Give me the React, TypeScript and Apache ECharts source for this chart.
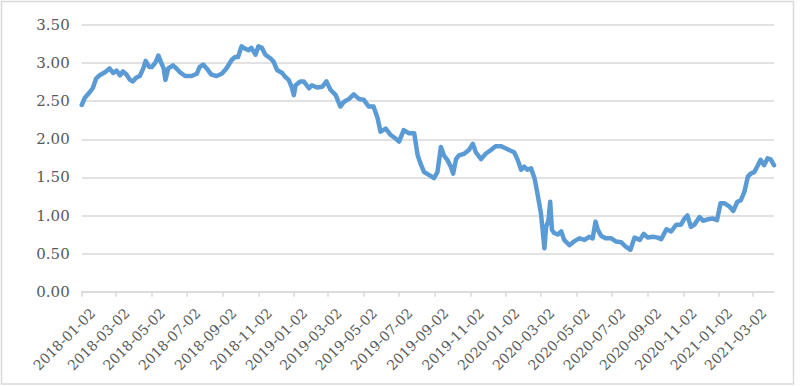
import React, { useEffect, useRef } from "react";
import * as echarts from "echarts";

const dates: string[] = [
  "2018-01-02","2018-01-07","2018-01-16","2018-01-21","2018-01-27","2018-02-02","2018-02-11","2018-02-19","2018-02-25",
  "2018-03-03","2018-03-09","2018-03-14","2018-03-20","2018-03-26","2018-03-31","2018-04-06","2018-04-12","2018-04-18",
  "2018-04-22","2018-04-28","2018-05-03","2018-05-09","2018-05-14","2018-05-18","2018-05-23","2018-05-26","2018-05-31",
  "2018-06-08","2018-06-14","2018-06-20","2018-06-29","2018-07-10","2018-07-19","2018-07-24","2018-07-30","2018-08-05",
  "2018-08-13","2018-08-22","2018-08-31","2018-09-08","2018-09-17","2018-09-23","2018-09-28","2018-10-04","2018-10-10",
  "2018-10-16","2018-10-21","2018-10-28","2018-11-02","2018-11-08","2018-11-14","2018-11-23","2018-11-28","2018-12-04",
  "2018-12-13","2018-12-18","2018-12-24","2018-12-29","2019-01-02","2019-01-05","2019-01-13","2019-01-19","2019-01-28",
  "2019-02-02","2019-02-11","2019-02-20","2019-02-27","2019-03-06","2019-03-15","2019-03-23","2019-03-29","2019-04-07",
  "2019-04-15","2019-04-24","2019-05-02","2019-05-11","2019-05-19","2019-05-26","2019-05-31","2019-06-09","2019-06-17",
  "2019-06-26","2019-07-02","2019-07-10","2019-07-19","2019-07-28","2019-08-03","2019-08-08","2019-08-14","2019-08-23",
  "2019-08-31","2019-09-06","2019-09-12","2019-09-17","2019-09-23","2019-09-29","2019-10-03","2019-10-08","2019-10-13",
  "2019-10-22","2019-10-30","2019-11-06","2019-11-11","2019-11-20","2019-11-28","2019-12-07","2019-12-15","2019-12-24",
  "2020-01-02","2020-01-10","2020-01-16","2020-01-22","2020-01-28","2020-02-02","2020-02-08","2020-02-14","2020-02-20",
  "2020-02-25","2020-03-02","2020-03-05","2020-03-08","2020-03-11","2020-03-15","2020-03-18","2020-03-21","2020-03-25",
  "2020-03-31","2020-04-06","2020-04-11","2020-04-20","2020-04-28","2020-05-07","2020-05-16","2020-05-24","2020-05-30",
  "2020-06-04","2020-06-08","2020-06-14","2020-06-22","2020-07-01","2020-07-09","2020-07-18","2020-07-26","2020-08-03",
  "2020-08-10","2020-08-19","2020-08-26","2020-09-02","2020-09-11","2020-09-19","2020-09-25","2020-10-04","2020-10-12",
  "2020-10-21","2020-10-29","2020-11-04","2020-11-09","2020-11-15","2020-11-21","2020-11-30","2020-12-06","2020-12-14",
  "2020-12-23","2020-12-30","2021-01-05","2021-01-12","2021-01-20","2021-01-27","2021-02-03","2021-02-09","2021-02-15",
  "2021-02-21","2021-02-26","2021-03-04","2021-03-09","2021-03-15","2021-03-21","2021-03-27","2021-04-01","2021-04-07",
];

const values: number[] = [
  2.45, 2.54, 2.62, 2.67, 2.80, 2.84, 2.88, 2.93, 2.87,
  2.90, 2.84, 2.89, 2.85, 2.78, 2.76, 2.81, 2.83, 2.93,
  3.03, 2.95, 2.95, 3.01, 3.10, 3.02, 2.93, 2.78, 2.93,
  2.97, 2.93, 2.88, 2.83, 2.83, 2.86, 2.95, 2.98, 2.93,
  2.85, 2.83, 2.86, 2.93, 3.04, 3.08, 3.08, 3.22, 3.19,
  3.17, 3.20, 3.11, 3.22, 3.20, 3.11, 3.06, 3.02, 2.91,
  2.87, 2.82, 2.78, 2.69, 2.58, 2.71, 2.76, 2.76, 2.67,
  2.71, 2.68, 2.69, 2.76, 2.65, 2.58, 2.43, 2.49, 2.53,
  2.59, 2.53, 2.52, 2.43, 2.43, 2.28, 2.10, 2.14, 2.06,
  2.01, 1.97, 2.12, 2.08, 2.08, 1.79, 1.68, 1.57, 1.53,
  1.49, 1.57, 1.90, 1.79, 1.73, 1.64, 1.55, 1.74, 1.79,
  1.81, 1.86, 1.94, 1.83, 1.74, 1.81, 1.86, 1.91, 1.91,
  1.88, 1.85, 1.83, 1.73, 1.60, 1.64, 1.60, 1.62, 1.49,
  1.29, 1.03, 0.81, 0.57, 0.85, 0.94, 1.18, 0.81, 0.77,
  0.75, 0.79, 0.68, 0.61, 0.66, 0.70, 0.68, 0.72, 0.70,
  0.92, 0.81, 0.73, 0.70, 0.70, 0.66, 0.65, 0.59, 0.55,
  0.71, 0.68, 0.76, 0.71, 0.72, 0.71, 0.69, 0.82, 0.79,
  0.88, 0.88, 0.96, 1.00, 0.85, 0.88, 0.98, 0.93, 0.95,
  0.96, 0.94, 1.16, 1.16, 1.12, 1.06, 1.18, 1.20, 1.31,
  1.51, 1.55, 1.57, 1.64, 1.73, 1.66, 1.75, 1.74, 1.66,
];

const xTickLabels: string[] = [
  "2018-01-02","2018-03-02","2018-05-02","2018-07-02","2018-09-02","2018-11-02",
  "2019-01-02","2019-03-02","2019-05-02","2019-07-02","2019-09-02","2019-11-02",
  "2020-01-02","2020-03-02","2020-05-02","2020-07-02","2020-09-02","2020-11-02",
  "2021-01-02","2021-03-02",
];

const yMin = 0;
const yMax = 3.5;
const yStep = 0.5;

function toTs(s: string): number {
  const [y, m, d] = s.split("-").map(Number);
  return new Date(y, m - 1, d).getTime();
}

const FONT = "'DejaVu Serif', 'Liberation Serif', serif";
const TEXT_COLOR = "#595959";

export default function App() {
  const ref = useRef<HTMLDivElement>(null);
  useEffect(() => {
    if (!ref.current) return;
    const chart = echarts.init(ref.current, null, { renderer: "svg" });
    const tickTs = xTickLabels.map(toTs);
    const seriesData = dates.map((d, i) => [toTs(d), values[i]]);
    const frame = {
      type: "rect",
      shape: { x: 1.5, y: 1.5, width: 792, height: 382.5 },
      style: { fill: "none", stroke: "#D9D9D9", lineWidth: 1.5 },
      silent: true,
    };
    chart.setOption({
      animation: false,
      backgroundColor: "#ffffff",
      graphic: [frame],
      grid: { left: 81.7, right: 26, top: 25, bottom: 94.3, containLabel: false },
      xAxis: {
        type: "value",
        min: toTs(dates[0]),
        max: toTs(dates[dates.length - 1]),
        axisLine: { show: true, lineStyle: { color: "#D9D9D9", width: 1.5 } },
        axisTick: {
          show: true,
          length: 5,
          lineStyle: { color: "#D9D9D9", width: 1.5 },
          customValues: tickTs,
        },
        axisLabel: { show: false },
        splitLine: { show: false },
      },
      yAxis: {
        type: "value",
        min: yMin,
        max: yMax,
        interval: yStep,
        axisLine: { show: false },
        axisTick: { show: false },
        axisLabel: {
          color: TEXT_COLOR,
          fontSize: 15,
          fontFamily: FONT,
          margin: 12,
          formatter: (v: number) => v.toFixed(2),
        },
        splitLine: { show: true, lineStyle: { color: "#D9D9D9", width: 1.5 } },
      },
      series: [
        {
          type: "line",
          data: seriesData,
          showSymbol: false,
          symbol: "none",
          smooth: false,
          lineStyle: { color: "#5B9BD5", width: 4.5, join: "round", cap: "round" },
        },
      ],
    });
    // x-axis tick labels, positioned through the axis scale
    const axisY = chart.convertToPixel({ yAxisIndex: 0 }, yMin) as number;
    const labelEls = xTickLabels.map((label, i) => {
      const px = chart.convertToPixel({ xAxisIndex: 0 }, tickTs[i]) as number;
      return {
        type: "text",
        x: px + 11,
        y: axisY + 19,
        rotation: Math.PI / 4,
        silent: true,
        style: {
          text: label,
          fill: TEXT_COLOR,
          font: `14px ${FONT}`,
          align: "right",
          verticalAlign: "middle",
        },
      };
    });
    chart.setOption({ graphic: [frame, ...labelEls] });
    return () => chart.dispose();
  }, []);
  return (
    <div
      ref={ref}
      style={{ position: "fixed", left: 0, top: 0, width: 800, height: 386, background: "#fff" }}
    />
  );
}
